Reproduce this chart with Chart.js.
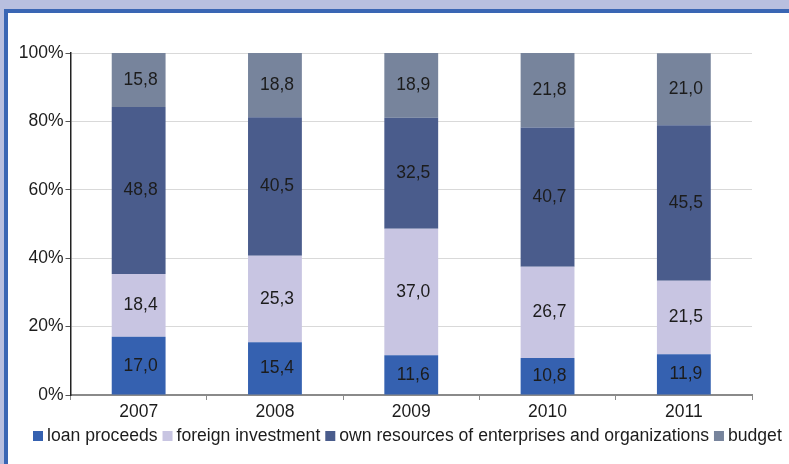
<!DOCTYPE html>
<html>
<head>
<meta charset="utf-8">
<script src="https://cdn.jsdelivr.net/npm/chart.js@4"></script>
<style>
  html, body { margin: 0; padding: 0; background: #b8bfdf; }
  body { width: 789px; height: 464px; overflow: hidden; position: relative; }
  #panel {
    position: absolute; left: 4px; top: 9px;
    width: 781px; height: 451px;
    border-left: 4px solid #3a66b4; border-top: 4px solid #3a66b4;
    background: #fff;
  }
  canvas { display: block; }
</style>
</head>
<body>
<div id="panel"><canvas id="chart" width="781" height="451"></canvas></div>
<script>
const years = ['2007', '2008', '2009', '2010', '2011'];
const loanProceeds = [17.0, 15.4, 11.6, 10.8, 11.9];
const foreignInvestment = [18.4, 25.3, 37.0, 26.7, 21.5];
const ownResources = [48.8, 40.5, 32.5, 40.7, 45.5];
const budget = [15.8, 18.8, 18.9, 21.8, 21.0];

const fontFamily = '"Liberation Sans", Arial, sans-serif';

// numbers inside the bar segments, with decimal comma
const segmentLabels = {
  id: 'segmentLabels',
  afterDatasetsDraw(chart) {
    const ctx = chart.ctx;
    ctx.save();
    ctx.font = '17.5px ' + fontFamily;
    ctx.fillStyle = '#1c1c1c';
    ctx.textAlign = 'center';
    ctx.textBaseline = 'middle';
    chart.data.datasets.forEach((ds, i) => {
      chart.getDatasetMeta(i).data.forEach((bar, j) => {
        const txt = ds.data[j].toFixed(1).replace('.', ',');
        ctx.fillText(txt, bar.x + 2, (bar.y + bar.base) / 2);
      });
    });
    ctx.restore();
  }
};

// tight one-line legend like the original
const tightLegend = {
  id: 'tightLegend',
  afterDraw(chart) {
    const ctx = chart.ctx;
    ctx.save();
    ctx.font = '17.6px ' + fontFamily;
    ctx.textBaseline = 'middle';
    ctx.textAlign = 'left';
    let x = 25;
    const y = 423;
    chart.data.datasets.forEach(ds => {
      ctx.fillStyle = ds.backgroundColor;
      ctx.fillRect(x, y - 5, 10, 10);
      x += 14;
      ctx.fillStyle = '#1c1c1c';
      ctx.fillText(ds.label, x, y);
      x += ctx.measureText(ds.label).width + 5;
    });
    ctx.restore();
  }
};

new Chart(document.getElementById('chart'), {
  type: 'bar',
  data: {
    labels: years,
    datasets: [
      { label: 'loan proceeds', data: loanProceeds, backgroundColor: '#3561b0' },
      { label: 'foreign investment', data: foreignInvestment, backgroundColor: '#c8c5e2' },
      { label: 'own resources of enterprises and organizations', data: ownResources, backgroundColor: '#4a5c8c' },
      { label: 'budget', data: budget, backgroundColor: '#77849c' }
    ]
  },
  options: {
    responsive: false,
    animation: false,
    barPercentage: 0.395,
    categoryPercentage: 1,
    layout: { padding: { left: 0, right: 37, top: 40, bottom: 39 } },
    plugins: {
      tooltip: { enabled: false },
      legend: { display: false }
    },
    scales: {
      x: {
        stacked: true,
        afterFit(s) { s.height = 30; },
        grid: { offset: true, drawOnChartArea: false, tickLength: 5, color: '#8a8a8a' },
        border: { color: '#8a8a8a', width: 2 },
        ticks: { padding: 2, color: '#1c1c1c', font: { size: 17.5, family: fontFamily } }
      },
      y: {
        stacked: true,
        min: 0,
        max: 100,
        afterFit(s) { s.width = 62.5; },
        grid: { color: '#d9d9d9', tickColor: '#555', tickLength: 5 },
        border: { color: '#222', width: 1.5 },
        ticks: {
          stepSize: 20,
          padding: 2,
          color: '#1c1c1c',
          font: { size: 17.5, family: fontFamily },
          callback: v => v + '%'
        }
      }
    }
  },
  plugins: [segmentLabels, tightLegend]
});
</script>
</body>
</html>
